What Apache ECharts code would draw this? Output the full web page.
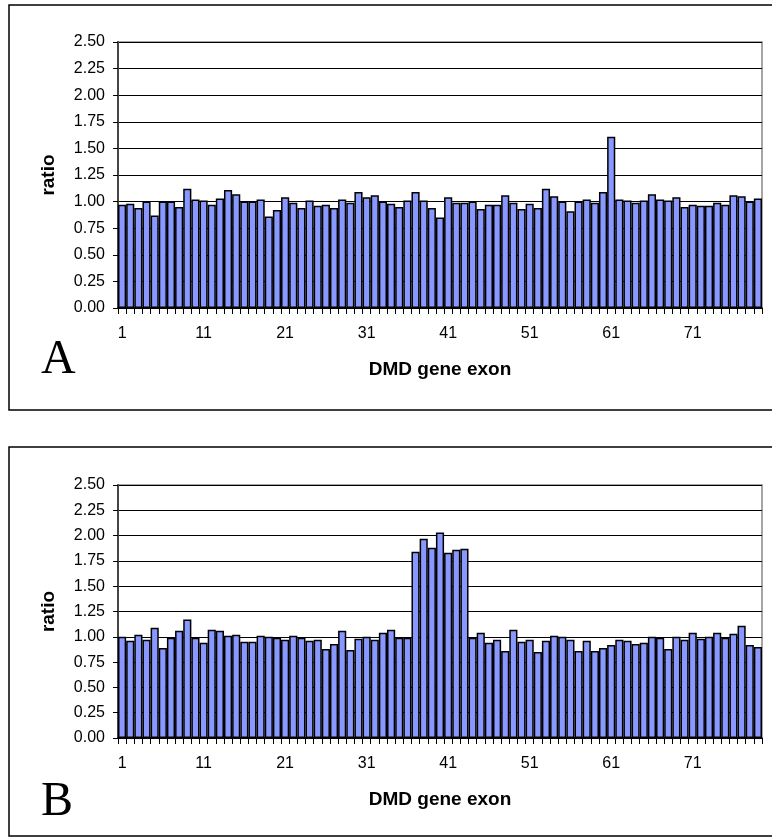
<!DOCTYPE html>
<html>
<head>
<meta charset="utf-8">
<script src="https://cdn.jsdelivr.net/npm/echarts@6/dist/echarts.min.js"></script>
<style>
  html, body { margin: 0; padding: 0; background: #fff; }
  #chart { width: 772px; height: 837px; }
</style>
</head>
<body>
<div id="chart"></div>
<script>
  // exon numbers 1..79
  var exons = [];
  for (var i = 1; i <= 79; i++) exons.push(String(i));

  // panel A ratios
  var ratioA = [
    0.97, 0.98, 0.94, 1.00, 0.87, 1.00, 1.00, 0.95, 1.12, 1.02,
    1.01, 0.97, 1.03, 1.11, 1.07, 1.00, 1.00, 1.02, 0.86, 0.92,
    1.04, 0.99, 0.94, 1.01, 0.96, 0.97, 0.94, 1.02, 0.99, 1.09,
    1.04, 1.06, 1.00, 0.98, 0.95, 1.01, 1.09, 1.01, 0.94, 0.85,
    1.04, 0.99, 0.99, 1.00, 0.93, 0.97, 0.97, 1.06, 0.99, 0.93,
    0.98, 0.94, 1.12, 1.05, 1.00, 0.91, 1.00, 1.02, 0.99, 1.09,
    1.61, 1.02, 1.01, 0.99, 1.01, 1.07, 1.02, 1.01, 1.04, 0.95,
    0.97, 0.96, 0.96, 0.99, 0.97, 1.06, 1.05, 1.00, 1.03
  ];

  // panel B ratios
  var ratioB = [
    1.00, 0.96, 1.02, 0.97, 1.09, 0.89, 0.99, 1.06, 1.17, 0.99,
    0.94, 1.07, 1.06, 1.01, 1.02, 0.95, 0.95, 1.01, 1.00, 0.99,
    0.97, 1.01, 0.99, 0.96, 0.97, 0.88, 0.93, 1.06, 0.87, 0.98,
    1.00, 0.97, 1.04, 1.07, 0.99, 0.99, 1.84, 1.97, 1.88, 2.03,
    1.83, 1.86, 1.87, 0.99, 1.04, 0.94, 0.97, 0.86, 1.07, 0.95,
    0.97, 0.85, 0.96, 1.01, 1.00, 0.97, 0.86, 0.96, 0.86, 0.89,
    0.92, 0.97, 0.96, 0.93, 0.94, 1.00, 0.99, 0.88, 1.00, 0.97,
    1.04, 0.98, 1.00, 1.04, 0.99, 1.03, 1.11, 0.92, 0.90
  ];

  var yMin = 0, yMax = 2.5, yStep = 0.25;

  var font = 'Liberation Sans, Arial, sans-serif';
  var serif = 'Liberation Serif, Times New Roman, serif';

  function xAxisFor(idx) {
    return {
      type: 'category',
      gridIndex: idx,
      data: exons,
      name: 'DMD gene exon',
      nameLocation: 'middle',
      nameGap: 52,
      nameTextStyle: { fontFamily: font, fontWeight: 'bold', fontSize: 19, color: '#000' },
      axisLine: { lineStyle: { color: '#000', width: 1.5 } },
      axisTick: { show: true, interval: 0, length: 6, lineStyle: { color: '#000' } },
      axisLabel: { interval: 9, margin: 18, fontFamily: font, fontSize: 16, color: '#000' },
      splitLine: { show: false }
    };
  }

  function yAxisFor(idx) {
    return {
      type: 'value',
      gridIndex: idx,
      min: yMin,
      max: yMax,
      interval: yStep,
      name: 'ratio',
      nameLocation: 'middle',
      nameGap: 60,
      nameRotate: 90,
      nameTextStyle: { fontFamily: font, fontWeight: 'bold', fontSize: 19, color: '#000' },
      axisLine: { show: true, lineStyle: { color: '#444', width: 2 } },
      axisTick: { show: true, length: 5, lineStyle: { color: '#000' } },
      axisLabel: {
        margin: 13, fontFamily: font, fontSize: 16, color: '#000',
        formatter: function (v) { return v.toFixed(2); }
      },
      splitLine: { show: true, lineStyle: { color: '#000', width: 1 } }
    };
  }

  function barSeries(idx, data) {
    return {
      type: 'bar',
      xAxisIndex: idx,
      yAxisIndex: idx,
      data: data,
      barCategoryGap: '0%',
      itemStyle: { color: '#8898ff', borderColor: '#000', borderWidth: 1.5 },
      animation: false
    };
  }

  var chart = echarts.init(document.getElementById('chart'));
  chart.setOption({
    animation: false,
    backgroundColor: '#fff',
    grid: [
      { left: 118, top: 42, width: 644, height: 266, show: true, borderColor: '#888', borderWidth: 1.5 },
      { left: 118, top: 485, width: 644, height: 253, show: true, borderColor: '#888', borderWidth: 1.5 }
    ],
    xAxis: [xAxisFor(0), xAxisFor(1)],
    yAxis: [yAxisFor(0), yAxisFor(1)],
    series: [barSeries(0, ratioA), barSeries(1, ratioB)],
    graphic: [
      { type: 'rect', shape: { x: 9, y: 5, width: 800, height: 405 }, style: { fill: 'none', stroke: '#000', lineWidth: 1.5 }, z: -1 },
      { type: 'rect', shape: { x: 9, y: 447, width: 800, height: 389 }, style: { fill: 'none', stroke: '#000', lineWidth: 1.5 }, z: -1 },
      { type: 'text', left: 41, top: 336, style: { text: 'A', font: '48px ' + serif, fill: '#000' } },
      { type: 'text', left: 41, top: 778, style: { text: 'B', font: '48px ' + serif, fill: '#000' } }
    ]
  });
</script>
</body>
</html>
